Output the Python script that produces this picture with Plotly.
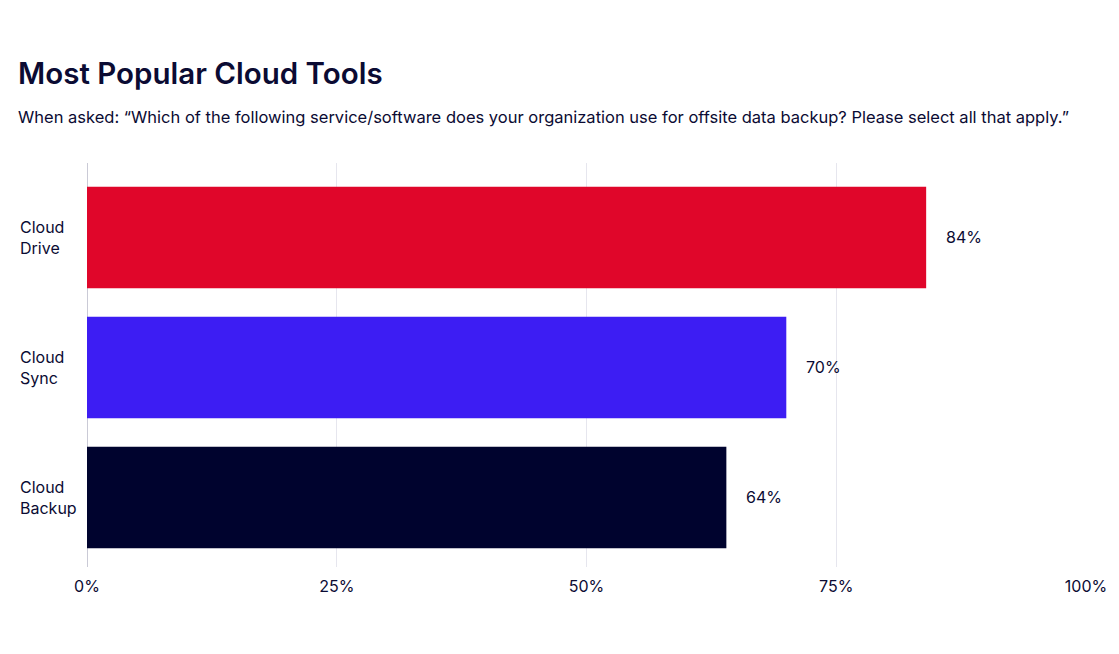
import plotly.graph_objects as go

categories = ["Cloud Drive", "Cloud Sync", "Cloud Backup"]
values = [84, 70, 64]
colors = ["#E0062A", "#3D1DF3", "#00032E"]
tick_vals = [0, 25, 50, 75, 100]
tick_text = ["0%", "25%", "50%", "75%", "100%"]
title_text = "Most Popular Cloud Tools"
subtitle_text = ("When asked: \u201cWhich of the following service/software does your organization "
                 "use for offsite data backup? Please select all that apply.\u201d")

FONT = "Inter, Lato, sans-serif"
DARK = "#0B0B33"

fig = go.Figure()
fig.add_trace(go.Bar(
    y=categories, x=values, orientation="h",
    marker=dict(color=colors, line=dict(width=0)),
    width=0.78, hoverinfo="skip",
))

annotations = []
for c, v in zip(categories, values):
    annotations.append(dict(x=v, y=c, xref="x", yref="y", text=f"{v}%",
                            showarrow=False, xanchor="left", xshift=18,
                            font=dict(family=FONT, size=16, color=DARK)))
    annotations.append(dict(x=0, y=c, xref="paper", yref="y",
                            text="<br>".join(c.split(" ")), showarrow=False,
                            xanchor="left", align="left", xshift=-69,
                            font=dict(family=FONT, size=16, color=DARK)))
annotations.append(dict(x=0, y=1, xref="paper", yref="paper", text=title_text,
                        showarrow=False, xanchor="left", yanchor="middle",
                        xshift=-71, yshift=90,
                        font=dict(family=FONT, size=29.5, color=DARK, weight=600)))
annotations.append(dict(x=0, y=1, xref="paper", yref="paper", text=subtitle_text,
                        showarrow=False, xanchor="left", yanchor="middle",
                        xshift=-71, yshift=46,
                        font=dict(family=FONT, size=16.5, color=DARK)))

fig.update_layout(
    width=1103, height=638,
    margin=dict(l=79, r=25, t=155, b=79, autoexpand=False),
    paper_bgcolor="white", plot_bgcolor="white",
    showlegend=False, bargap=0.22,
    annotations=annotations,
    xaxis=dict(range=[0, 100], tickvals=tick_vals, ticktext=tick_text,
               showgrid=True, gridcolor="#E6E6EE", gridwidth=1,
               zeroline=False, showline=False, ticks="", automargin=False,
               tickfont=dict(family=FONT, size=16, color=DARK), ticklabelstandoff=8),
    yaxis=dict(categoryorder="array", categoryarray=categories,
               range=[2.535, -0.573], showticklabels=False, showgrid=False,
               zeroline=False, showline=False, ticks="", automargin=False),
    shapes=[dict(type="line", xref="x", yref="paper", x0=0, x1=0, y0=0, y1=1,
                 line=dict(color="#B8B8C8", width=1.5), layer="below")],
)

fig.write_html("out.html")
